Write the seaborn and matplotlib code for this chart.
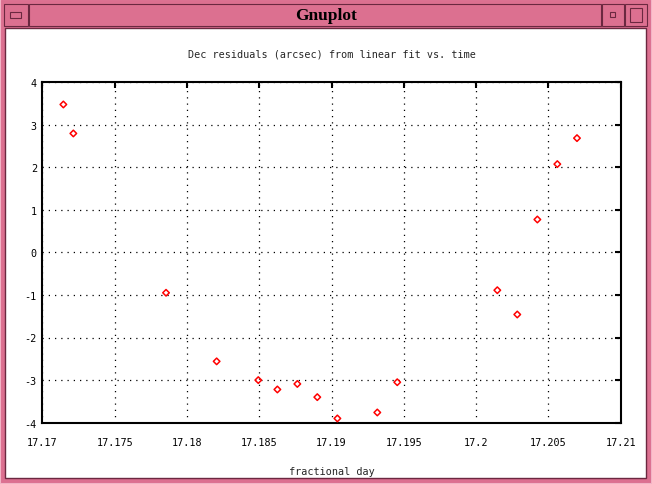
import seaborn as sns
import matplotlib.pyplot as plt
from matplotlib.patches import Rectangle

# values
day = [17.17145, 17.17214, 17.17855, 17.18205, 17.18493, 17.18625, 17.18763, 17.18901,
       17.19040, 17.19316, 17.19454, 17.20146, 17.20284, 17.20423, 17.20561, 17.20697]
resid = [3.47, 2.79, -0.95, -2.56, -3.00, -3.22, -3.09, -3.40,
         -3.90, -3.76, -3.05, -0.89, -1.46, 0.77, 2.07, 2.68]

xticks = [17.17, 17.175, 17.18, 17.185, 17.19, 17.195, 17.2, 17.205, 17.21]
xtick_labels = ["17.17", "17.175", "17.18", "17.185", "17.19", "17.195", "17.2", "17.205", "17.21"]
yticks = [-4, -3, -2, -1, 0, 1, 2, 3, 4]
ytick_labels = ["-4", "-3", "-2", "-1", "0", "1", "2", "3", "4"]

W, H = 652, 485
PINK = "#dc7090"
DARK = "#6b2840"
LIGHT = "#f2b4c6"
MONO = "DejaVu Sans Mono"


def box(fig, x, y, w, h, face, edge=DARK, lw=0.8, z=-5):
    # rectangle given in pixel coords, origin at top-left
    fig.add_artist(Rectangle((x / W, 1 - (y + h) / H), w / W, h / H,
                             transform=fig.transFigure, facecolor=face,
                             edgecolor=edge, linewidth=lw, zorder=z))


def draw_window(fig):
    box(fig, 0, 0, W, H, PINK, edge=LIGHT, lw=1.5, z=-10)
    # title bar pieces
    box(fig, 4, 5, 24, 22, PINK)
    box(fig, 10, 13, 11, 6, PINK)
    box(fig, 29, 5, 572, 22, PINK)
    box(fig, 602, 5, 22, 22, PINK)
    box(fig, 610, 13, 5, 5, PINK)
    box(fig, 625, 5, 22, 22, PINK)
    box(fig, 630, 9, 12, 14, PINK)
    # client area
    box(fig, 5, 29, 641, 450, "white", lw=1.0)
    fig.text(326 / W, 1 - 16 / H, "Gnuplot", ha="center", va="center",
             fontsize=12.5, fontweight="bold", family="Liberation Serif", color="black")


def main():
    sns.set_style("white")
    plt.rcParams["font.family"] = [MONO, "DejaVu Sans"]

    fig = plt.figure(figsize=(W / 100, H / 100), dpi=100)
    draw_window(fig)

    ax = fig.add_axes([42.4 / W, 1 - 423.7 / H, (620.8 - 42.4) / W, (423.7 - 82.9) / H])
    ax.set_facecolor("none")

    sns.scatterplot(x=day, y=resid, ax=ax, marker="D", s=11,
                    facecolor="none", edgecolor="red", linewidth=1.1, zorder=3)

    ax.set_xlim(17.17, 17.21)
    ax.set_ylim(-4, 4)
    ax.set_xticks(xticks)
    ax.set_xticklabels(xtick_labels)
    ax.set_yticks(yticks)
    ax.set_yticklabels(ytick_labels)

    ax.grid(True, color="black", linewidth=0.9, linestyle=(0, (1, 4)))
    for sp in ax.spines.values():
        sp.set_visible(True)
        sp.set_color("black")
        sp.set_linewidth(1.5)
    ax.tick_params(direction="in", length=4, width=1.5, colors="black",
                   top=True, right=True, labelsize=7.3)
    ax.tick_params(axis="x", pad=10)
    ax.tick_params(axis="y", pad=4)

    ax.set_title("Dec residuals (arcsec) from linear fit vs. time", fontsize=7.3, pad=18)
    ax.set_xlabel("fractional day", fontsize=7.3, labelpad=14)
    ax.set_ylabel("")

    fig.savefig("out.png", dpi=100, facecolor=PINK)
    plt.close(fig)


if __name__ == "__main__":
    main()
